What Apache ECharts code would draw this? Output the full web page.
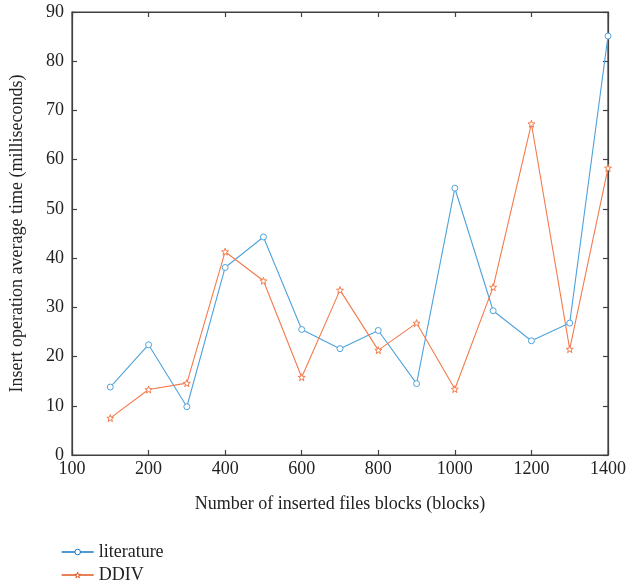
<!DOCTYPE html>
<html>
<head>
<meta charset="utf-8">
<script src="https://cdn.jsdelivr.net/npm/echarts@6/dist/echarts.min.js"></script>
<style>
  html, body { margin: 0; padding: 0; background: #fff; }
  #chart { width: 631px; height: 586px; }
</style>
</head>
<body>
<div id="chart"></div>
<script>
// data
let blocks = [100, 200, 300, 400, 500, 600, 700, 800, 900, 1000, 1100, 1200, 1300, 1400]
let literature = [13.8, 22.4, 9.8, 38.1, 44.3, 25.5, 21.6, 25.3, 14.5, 54.2, 29.3, 23.2, 26.8, 85.1]
let ddiv = [7.5, 13.3, 14.6, 41.3, 35.4, 15.8, 33.5, 21.3, 26.8, 13.4, 34.1, 67.3, 21.5, 58.3]

let blue = '#4ea3dc'
let orange = '#f47a4c'
let serif = '"Liberation Serif", "DejaVu Serif", serif'
let star = 'path://M0,-10 L2.35,-3.24 L9.51,-3.09 L3.8,1.24 L5.88,8.09 L0,4 L-5.88,8.09 L-3.8,1.24 L-9.51,-3.09 L-2.35,-3.24 Z'

function pairs(ys) {
  return blocks.map(function (x, i) { return [x, ys[i]] })
}

function frameLine() {
  return { show: true, onZero: false, lineStyle: { color: '#404040', width: 1.2 } }
}
function inTick() {
  return { show: true, inside: true, length: 5, lineStyle: { color: '#404040', width: 1.2 } }
}
// one legend per entry so they stack
function legendFor(name, top, col) {
  return {
    orient: 'vertical',
    left: 56,
    top: top,
    itemWidth: 32,
    itemHeight: 7,
    itemGap: 8,
    lineStyle: { color: col, width: 1.3 },
    itemStyle: { color: '#fff', borderColor: col, borderWidth: 1 },
    textStyle: { fontFamily: serif, fontSize: 18, color: '#222' },
    data: [name]
  }
}

var myChart = echarts.init(document.getElementById('chart'))
var option = {
  animation: false,
  textStyle: { fontFamily: serif },
  grid: { left: 72, right: 23, top: 12, bottom: 131, show: true, borderColor: '#404040', borderWidth: 1.2 },
  legend: [legendFor('literature', 538, '#1a78c2'), legendFor('DDIV', 561, '#e0561f')],
  xAxis: [
    {
      type: 'value',
      gridIndex: 0,
      position: 'bottom',
      min: 0,
      max: 1400,
      interval: 200,
      name: 'Number of inserted files blocks (blocks)',
      nameLocation: 'middle',
      nameGap: 40,
      nameTextStyle: { fontFamily: serif, fontSize: 18, color: '#222' },
      axisLine: frameLine(),
      axisTick: inTick(),
      splitLine: { show: false },
      axisLabel: {
        fontFamily: serif, fontSize: 18, color: '#222', margin: 5,
        formatter: function (v) { return v === 0 ? '100' : String(v) }
      }
    },
    {
      type: 'value',
      gridIndex: 0,
      position: 'top',
      min: 0,
      max: 1400,
      interval: 200,
      axisLine: frameLine(),
      axisTick: inTick(),
      splitLine: { show: false },
      axisLabel: { show: false }
    }
  ],
  yAxis: [
    {
      type: 'value',
      gridIndex: 0,
      position: 'left',
      min: 0,
      max: 90,
      interval: 10,
      name: 'Insert operation average time (milliseconds)',
      nameLocation: 'middle',
      nameGap: 46,
      nameTextStyle: { fontFamily: serif, fontSize: 18, color: '#222' },
      axisLine: frameLine(),
      axisTick: inTick(),
      splitLine: { show: false },
      axisLabel: { fontFamily: serif, fontSize: 18, color: '#222', margin: 8 }
    },
    {
      type: 'value',
      gridIndex: 0,
      position: 'right',
      min: 0,
      max: 90,
      interval: 10,
      axisLine: frameLine(),
      axisTick: inTick(),
      splitLine: { show: false },
      axisLabel: { show: false }
    }
  ],
  series: [
    {
      name: 'literature',
      type: 'line',
      data: pairs(literature),
      symbol: 'circle',
      symbolSize: 6,
      showAllSymbol: true,
      lineStyle: { color: blue, width: 1.1 },
      itemStyle: { color: '#fff', borderColor: blue, borderWidth: 1 }
    },
    {
      name: 'DDIV',
      type: 'line',
      data: pairs(ddiv),
      symbol: star,
      symbolSize: 7,
      showAllSymbol: true,
      lineStyle: { color: orange, width: 1.1 },
      itemStyle: { color: '#fff', borderColor: orange, borderWidth: 1 }
    }
  ]
}
myChart.setOption(option)
</script>
</body>
</html>
